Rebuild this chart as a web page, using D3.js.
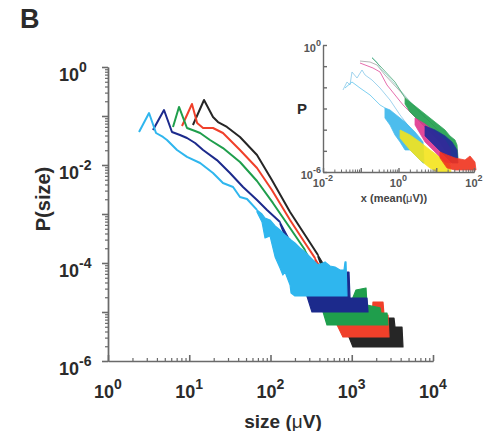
<!DOCTYPE html>
<html>
<head>
<meta charset="utf-8">
<script src="https://cdn.jsdelivr.net/npm/d3@7"></script>
<style>
  body { margin: 0; background: #fff; }
  text { font-family: "Liberation Sans", Arial, Helvetica, sans-serif; font-weight: bold; }
</style>
</head>
<body>
<svg id="chart" width="491" height="431"></svg>
<script>
// ---------- main panel: avalanche size distributions ----------
const mainXDecades = [1, 10, 100, 1000, 10000];
const mainXExp = ["0", "1", "2", "3", "4"];
const mainYDecades = [1e-6, 1e-5, 1e-4, 1e-3, 1e-2, 1e-1, 1];
const mainYLabelled = [1, 1e-2, 1e-4, 1e-6];
const mainYExp = ["0", "-2", "-4", "-6"];

const seriesColors = { black: "#262626", red: "#f0402a", green: "#1f9e4c", navy: "#1c2a8c", cyan: "#2fb6ee" };

// [size (µV), P(size)]
const blackLine = [[11.1,0.0655],[15.2,0.212],[19.6,0.0954],[22.6,0.0754],[29.1,0.0597],[42.1,0.0373],[68.2,0.0160],[104,0.00494],[174,0.00110],[266,3.73e-4],[384,1.46e-4]];
const redLine   = [[8.14,0.0625],[10.8,0.176],[12.5,0.0720],[14.8,0.0569],[19.6,0.0569],[26.0,0.0450],[42.1,0.0202],[68.2,0.00869],[104,0.00309],[174,7.55e-4],[266,2.56e-4],[353,1.26e-4]];
const greenLine = [[6.31,0.0597],[7.48,0.153],[9.38,0.0569],[11.8,0.0494],[13.6,0.0450],[18.0,0.0324],[26.0,0.0222],[42.1,0.0115],[68.2,0.00472],[107,0.00168],[174,5.18e-4],[266,1.84e-4]];
const navyLine  = [[3.58,0.0518],[4.89,0.1325],[6.13,0.0471],[7.69,0.0409],[9.38,0.0356],[11.8,0.0281],[14.8,0.0202],[21.9,0.0126],[31.7,0.00687],[45.9,0.00356],[68.2,0.00193],[90.6,0.00121],[131,6.87e-4]];
const cyanLine  = [[2.41,0.0471],[3.20,0.115],[3.90,0.0450],[4.75,0.0373],[5.32,0.0324],[7.07,0.0202],[9.38,0.0146],[13.6,0.0110],[19.6,0.00687],[26.0,0.00429],[34.6,0.00356],[42.1,0.00222],[51.4,0.00202],[68.2,0.00121]];

// noisy tails: [size, upper P, lower P]
const blackTail = [[384,1.46e-4,1.33e-4],[540,5.69e-5,2.81e-5],[1036,6.87e-6,1.93e-6],[2566,3.91e-6,1.93e-6],[2640,7.55e-6,1.93e-6],[3311,7.55e-6,1.93e-6],[3407,4.94e-6,1.93e-6],[4155,4.94e-6,1.93e-6],[4273,1.93e-6,1.93e-6]];
const redTail   = [[353,1.26e-4,1.15e-4],[469,5.69e-5,1.76e-5],[780,6.87e-6,3.09e-6],[1775,6.87e-6,3.09e-6],[1826,1.60e-5,3.09e-6],[2424,1.60e-5,3.09e-6],[2495,8.69e-6,3.09e-6],[2794,8.69e-6,3.09e-6],[2874,3.09e-6,3.09e-6]];
const greenTail = [[266,1.84e-4,1.68e-4],[353,7.91e-5,3.56e-5],[496,2.81e-5,5.43e-6],[1007,1.76e-5,5.43e-6],[1128,2.81e-5,5.43e-6],[1498,3.09e-5,5.43e-6],[1540,1.39e-5,5.43e-6],[2227,1.21e-5,5.43e-6],[2291,9.54e-6,5.43e-6],[2716,9.54e-6,5.43e-6],[2794,5.43e-6,5.43e-6]];
const navyTail  = [[131,6.87e-4,6.25e-4],[200,1.84e-4,1.05e-4],[266,9.10e-5,2.81e-5],[324,5.69e-5,1.0e-5],[540,3.56e-5,1.0e-5],[803,2.12e-5,1.0e-5],[874,6.55e-5,1.0e-5],[925,6.55e-5,1.0e-5],[952,1.93e-5,1.0e-5],[1540,1.93e-5,1.0e-5],[1585,1.0e-5,1.0e-5]];
const cyanTail  = [[68.2,1.21e-3,1.10e-3],[78.6,1.0e-3,6.87e-4],[85.6,8.29e-4,3.24e-4],[98.6,7.55e-4,3.56e-4],[114,5.69e-4,1.33e-4],[131,4.71e-4,7.91e-5],[142,4.09e-4,5.69e-5],[151,3.73e-4,6.55e-5],[174,3.09e-4,3.56e-5],[179,2.95e-4,2.44e-5],[200,2.56e-4,2.12e-5],[231,2.02e-4,2.12e-5],[266,1.68e-4,2.12e-5],[306,1.33e-4,2.12e-5],[384,9.10e-5,2.12e-5],[469,1.05e-4,2.12e-5],[540,8.69e-5,2.12e-5],[622,8.29e-5,2.12e-5],[717,7.20e-5,2.12e-5],[803,7.20e-5,2.12e-5],[826,1.05e-4,2.12e-5],[850,1.05e-4,2.12e-5],[874,2.12e-5,2.12e-5]];

// ---------- inset: collapsed distributions, x scaled by mean ----------
const insetXDecades = [0.01, 1, 100];
const insetXExp = ["-2", "0", "2"];
const insetYDecades = [1e-6, 1e-5, 1e-4, 1e-3, 1e-2, 1e-1, 1];
const insetYLabelled = [1, 1e-6];
const insetYExp = ["0", "-6"];

const insetGray  = [[0.0955,0.175],[0.176,0.157],[0.269,0.114],[0.438,0.0383],[0.912,0.00931],[2.02,0.00203],[3.71,6.85e-4],[8.20,1.66e-4],[17.1,4.04e-5]];
const insetTeal  = [[0.199,0.271],[0.269,0.157],[0.324,0.0819],[0.495,0.0383],[1.10,0.00749],[2.42,0.00147],[5.04,3.56e-4]];
const insetPink  = [[0.0955,0.141],[0.211,0.0819],[0.324,0.0531],[0.495,0.0129],[1.32,0.00147],[4.46,1.66e-4],[15.1,2.62e-5],[35.5,6.37e-6]];
const insetLightBlue = [[0.0339,0.00749],[0.0433,0.0179],[0.0519,0.0129],[0.0586,0.0531],[0.0796,0.0276],[0.108,0.0659],[0.130,0.0383],[0.199,0.0222],[0.324,0.00931],[0.596,0.00252],[1.10,4.94e-4],[2.02,1.20e-4]];
const insetCyanLine  = [[0.0383,0.00931],[0.0586,0.0179],[0.0955,0.00931],[0.176,0.00435],[0.324,0.00147],[0.438,1.06e-3]];
const insetGreenLine = [[0.199,0.243],[0.324,0.102],[0.807,0.0179],[1.49,3.14e-3]];

const insetGreenTail   = [[1.49,3.14e-3,1.63e-3],[2.02,2.03e-3,6.85e-4],[3.71,8.51e-4,2.30e-4],[6.83,3.56e-4,7.77e-5],[12.6,1.49e-4,2.62e-5],[17.1,9.66e-5,1.10e-5],[23.1,5.03e-5,6.37e-6],[31.4,3.26e-5,4.59e-6],[35.5,1.89e-5,4.59e-6],[37.7,4.59e-6,4.59e-6]];
const insetCyanTail    = [[0.438,1.06e-3,3.56e-4],[0.596,8.51e-4,1.66e-4],[0.807,5.51e-4,5.61e-5],[1.10,3.56e-4,2.62e-5],[1.49,2.30e-4,1.10e-5],[2.02,1.34e-4,1.10e-5],[2.74,7.77e-5,6.37e-6],[3.71,4.04e-5,3.70e-6],[4.46,2.62e-5,2.67e-6],[4.74,2.67e-6,2.67e-6]];
const insetYellowTail  = [[1.10,9.66e-5,4.04e-5],[2.02,5.61e-5,1.10e-5],[3.71,2.62e-5,3.70e-6],[6.83,1.10e-5,1.55e-6],[10.5,6.37e-6,1.0e-6],[17.1,3.70e-6,1.0e-6],[23.1,2.14e-6,1.0e-6],[24.6,1.0e-6,1.0e-6]];
const insetMagentaTail = [[2.74,3.56e-4,1.66e-4],[5.04,1.85e-4,2.62e-5],[9.27,7.77e-5,8.83e-6],[17.1,3.26e-5,2.97e-6],[23.1,1.36e-5,2.67e-6],[24.6,2.67e-6,2.67e-6]];
const insetNavyTail    = [[5.04,1.49e-4,5.03e-5],[9.27,9.66e-5,1.69e-5],[17.1,5.03e-5,5.71e-6],[26.1,2.62e-5,2.67e-6],[35.5,1.10e-5,2.67e-6],[37.7,2.67e-6,2.67e-6]];
const insetRedTail     = [[12.6,8.83e-6,4.59e-6],[19.3,6.37e-6,1.55e-6],[31.4,4.59e-6,1.24e-6],[57.8,3.70e-6,1.24e-6],[78.4,5.71e-6,1.24e-6],[106,2.97e-6,1.24e-6],[113,1.24e-6,1.24e-6]];

// ---------- drawing ----------
const svg = d3.select("#chart");
const textColor = "#2b2b2b";
const axisColor = "#6a6a6a";

function minorTicks(decades) {
  const out = [];
  for (let i = 0; i < decades.length - 1; i++) {
    for (let k = 2; k <= 9; k++) out.push(decades[i] * k);
  }
  return out;
}

function powerLabel(g, x, y, exp, size, supSize, supShift, anchor, fill) {
  const t = g.append("text")
    .attr("x", x).attr("y", y)
    .attr("text-anchor", anchor)
    .attr("font-size", size)
    .attr("fill", fill);
  t.append("tspan").text("10");
  t.append("tspan").attr("dy", -supShift).attr("font-size", supSize).text(exp);
}

function styleAxis(sel, width) {
  sel.selectAll("path, line").attr("stroke", axisColor).attr("stroke-width", width);
  sel.selectAll("text").remove();
}

// main scales
const x = d3.scaleLog().domain([1, 1e4]).range([108, 433]);
const y = d3.scaleLog().domain([1e-6, 1]).range([361, 67]);

const main = svg.append("g");

// axes
const yMinor = main.append("g").attr("transform", "translate(108,0)")
  .call(d3.axisLeft(y).tickValues(minorTicks(mainYDecades)).tickSize(3).tickSizeOuter(0).tickFormat(""));
styleAxis(yMinor, 1.2);
const yMajor = main.append("g").attr("transform", "translate(108,0)")
  .call(d3.axisLeft(y).tickValues(mainYDecades).tickSize(6).tickSizeOuter(0).tickFormat(""));
styleAxis(yMajor, 1.6);

const xMinor = main.append("g").attr("transform", "translate(0,361)")
  .call(d3.axisBottom(x).tickValues(minorTicks(mainXDecades)).tickSize(-3).tickSizeOuter(0).tickFormat(""));
styleAxis(xMinor, 1.2);
const xMajor = main.append("g").attr("transform", "translate(0,361)")
  .call(d3.axisBottom(x).tickValues(mainXDecades).tickSize(-6).tickSizeOuter(0).tickFormat(""));
styleAxis(xMajor, 1.6);

mainYLabelled.forEach((v, i) => powerLabel(main, 59, y(v) + 14, mainYExp[i], 18, 14, 9, "start", textColor));
mainXDecades.forEach((v, i) => powerLabel(main, x(v), 398, mainXExp[i], 18, 14, 9, "middle", textColor));

// axis titles
main.append("text").attr("x", 283).attr("y", 428).attr("text-anchor", "middle")
  .attr("font-size", 19).attr("fill", textColor)
  .call(t => {
    t.append("tspan").text("size (");
    t.append("tspan").attr("font-weight", "normal").text("\u03bc");
    t.append("tspan").text("V)");
  });
main.append("text").attr("transform", "translate(50,199) rotate(-90)")
  .attr("text-anchor", "middle").attr("font-size", 20).attr("fill", textColor)
  .text("P(size)");
svg.append("text").attr("x", 20).attr("y", 28).attr("font-size", 27).attr("fill", textColor).text("B");

// data marks: tails then lines, drawn black first so cyan sits on top
const band = d3.area().x(d => x(d[0])).y0(d => y(d[2])).y1(d => y(d[1]));
const line = d3.line().x(d => x(d[0])).y(d => y(d[1]));

const mainSeries = [
  { c: seriesColors.black, l: blackLine, t: blackTail },
  { c: seriesColors.red,   l: redLine,   t: redTail },
  { c: seriesColors.green, l: greenLine, t: greenTail },
  { c: seriesColors.navy,  l: navyLine,  t: navyTail },
  { c: seriesColors.cyan,  l: cyanLine,  t: cyanTail }
];
const marks = main.append("g");
mainSeries.forEach(s => {
  marks.append("path").attr("d", band(s.t)).attr("fill", s.c)
    .attr("stroke", s.c).attr("stroke-width", 1.2).attr("stroke-linejoin", "round");
  marks.append("path").attr("d", line(s.l)).attr("fill", "none")
    .attr("stroke", s.c).attr("stroke-width", 2).attr("stroke-linejoin", "round");
});

// ---------- inset ----------
const ix = d3.scaleLog().domain([0.01, 100]).range([323, 474]);
const iy = d3.scaleLog().domain([1e-6, 1]).range([172, 45]);
const inset = svg.append("g");

const iband = d3.area().x(d => ix(d[0])).y0(d => iy(d[2])).y1(d => iy(d[1]));
const iline = d3.line().x(d => ix(d[0])).y(d => iy(d[1]));

[[insetGray, "#a9a9a9"], [insetTeal, "#9fd8cc"], [insetLightBlue, "#8fcbea"], [insetPink, "#e2559f"]]
  .forEach(([d, c]) => inset.append("path").attr("d", iline(d)).attr("fill", "none")
    .attr("stroke", c).attr("stroke-width", 1).attr("opacity", 0.85));
inset.append("path").attr("d", iline(insetCyanLine)).attr("fill", "none")
  .attr("stroke", "#5ec4ee").attr("stroke-width", 1).attr("opacity", 0.8);
inset.append("path").attr("d", iline(insetGreenLine)).attr("fill", "none")
  .attr("stroke", "#4aa676").attr("stroke-width", 1).attr("opacity", 0.8);

[[insetGreenTail, "#1f9e4c"], [insetCyanTail, "#3ab6ec"], [insetYellowTail, "#f4e41c"],
 [insetMagentaTail, "#e0368f"], [insetNavyTail, "#1f2a9a"], [insetRedTail, "#f0321e"]]
  .forEach(([d, c]) => inset.append("path").attr("d", iband(d)).attr("fill", c)
    .attr("stroke", c).attr("stroke-width", 0.8).attr("opacity", 0.9));

const iyAxis = inset.append("g").attr("transform", "translate(323,0)")
  .call(d3.axisLeft(iy).tickValues(insetYDecades).tickSize(-4).tickSizeOuter(0).tickFormat(""));
styleAxis(iyAxis, 1.4);
const ixMinor = inset.append("g").attr("transform", "translate(0,172)")
  .call(d3.axisBottom(ix).tickValues(minorTicks([0.01, 0.1, 1, 10, 100])).tickSize(-2.5).tickSizeOuter(0).tickFormat(""));
styleAxis(ixMinor, 1);
const ixMajor = inset.append("g").attr("transform", "translate(0,172)")
  .call(d3.axisBottom(ix).tickValues([0.01, 0.1, 1, 10, 100]).tickSize(-4).tickSizeOuter(0).tickFormat(""));
styleAxis(ixMajor, 1.4);

const insetText = "#555";
insetYLabelled.forEach((v, i) => powerLabel(inset, 321, iy(v) + 7, insetYExp[i], 11, 9, 6, "end", insetText));
insetXDecades.forEach((v, i) => powerLabel(inset, ix(v), 187, insetXExp[i], 11, 9, 6, "middle", insetText));

inset.append("text").attr("x", 297).attr("y", 114).attr("font-size", 15).attr("fill", textColor).text("P");
inset.append("text").attr("x", 394).attr("y", 202).attr("text-anchor", "middle")
  .attr("font-size", 11).attr("fill", "#444")
  .call(t => {
    t.append("tspan").text("x (mean(");
    t.append("tspan").attr("font-weight", "normal").text("\u03bc");
    t.append("tspan").text("V))");
  });
</script>
</body>
</html>
